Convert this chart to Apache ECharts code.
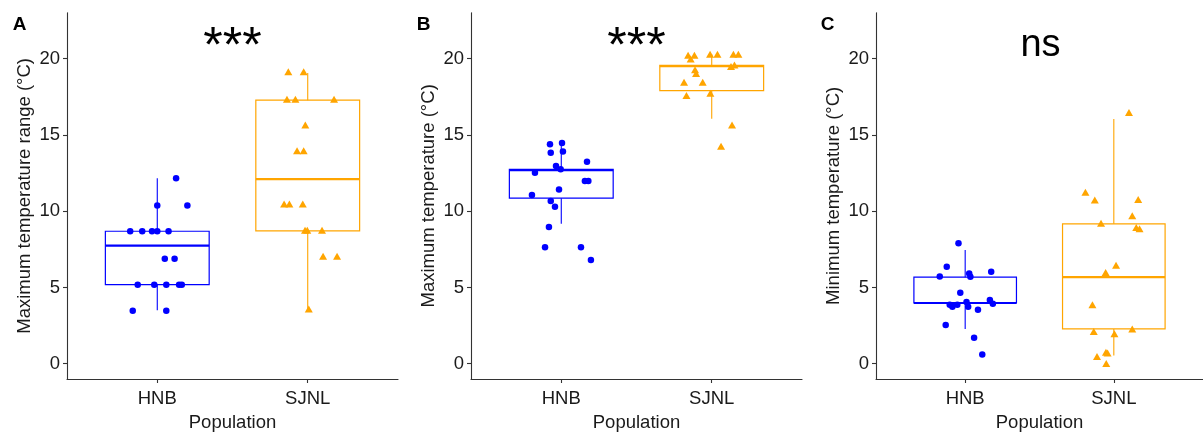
<!DOCTYPE html>
<html><head><meta charset="utf-8">
<script src="https://cdn.jsdelivr.net/npm/echarts@6/dist/echarts.min.js"></script>
<style>html,body{margin:0;padding:0;background:#fff}#c{width:1203px;height:437px}</style>
</head><body><div id="c"></div>
<script>
// ---- data ----
const categories = ['HNB', 'SJNL'];
const yTicks = [0, 5, 10, 15, 20];
const panelLetters = ['A', 'B', 'C'];
const yTitles = ['Maximum temperature range (°C)', 'Maximum temperature (°C)', 'Minimum temperature (°C)'];
const signif = ['***', '***', 'ns'];

// points: [jittered category position, value]
const A_HNB = [[1.125,12.15],[1.00,10.37],[1.20,10.37],[0.82,8.68],[0.90,8.68],[0.965,8.68],[1.00,8.68],[1.075,8.68],
  [1.05,6.88],[1.115,6.88],[0.87,5.18],[0.98,5.18],[1.06,5.18],[1.145,5.18],[1.163,5.18],[0.837,3.47],[1.06,3.47]];
const A_SJNL = [[1.871,19.13],[1.973,19.13],[1.862,17.33],[1.918,17.33],[2.175,17.33],[1.984,15.64],[1.929,13.95],[1.973,13.95],
  [1.843,10.46],[1.878,10.46],[1.967,10.46],[1.982,8.74],[1.997,8.74],[2.095,8.74],[2.102,7.05],[2.195,7.05],[2.007,3.58]];
const B_HNB = [[0.925,14.38],[1.005,14.47],[0.93,13.82],[1.011,13.90],[1.171,13.23],[0.965,12.95],[0.996,12.75],[0.825,12.52],
  [1.157,11.97],[1.18,11.97],[0.985,11.41],[0.805,11.06],[0.93,10.67],[0.958,10.28],[0.918,8.96],[0.892,7.64],[1.131,7.64],[1.197,6.79]];
const B_SJNL = [[1.843,20.22],[1.885,20.22],[1.86,19.96],[1.989,20.28],[2.038,20.28],[2.144,20.28],[2.177,20.28],[2.128,19.48],
  [2.151,19.57],[1.889,19.26],[1.896,19.02],[1.816,18.44],[1.94,18.44],[1.832,17.57],[1.991,17.72],[2.135,15.64],[2.062,14.25]];
const C_HNB = [[0.955,7.89],[0.876,6.35],[1.175,6.02],[0.829,5.72],[1.027,5.91],[1.035,5.70],[0.967,4.65],[0.896,3.87],[0.914,3.74],
  [0.947,3.87],[1.009,4.04],[1.02,3.74],[1.166,4.17],[1.186,3.93],[1.086,3.54],[0.869,2.54],[1.06,1.70],[1.115,0.61]];
const C_SJNL = [[2.102,16.46],[1.809,11.24],[1.872,10.72],[2.164,10.76],[2.124,9.70],[1.914,9.20],[2.151,8.93],[2.173,8.85],
  [2.015,6.46],[1.945,5.98],[1.856,3.87],[1.865,2.11],[2.004,1.96],[2.124,2.28],[1.947,0.76],[1.958,0.70],[1.887,0.48],[1.949,0.02]];

// box stats: [category position, lower whisker, Q1, median, Q3, upper whisker]
const A_BOX = [[1, 3.5, 5.18, 7.74, 8.68, 12.15], [2, 3.58, 8.7, 12.1, 17.27, 19.05]];
const B_BOX = [[1, 9.18, 10.85, 12.68, 12.74, 14.53], [2, 16.05, 17.9, 19.5, 19.55, 20.28]];
const C_BOX = [[1, 2.28, 3.98, 3.98, 5.67, 7.46], [2, 0.54, 2.28, 5.67, 9.17, 16.04]];

const points = [[A_HNB, A_SJNL], [B_HNB, B_SJNL], [C_HNB, C_SJNL]];
const boxes = [A_BOX, B_BOX, C_BOX];

// ---- styling ----
const FONT = '"Liberation Sans", Arial, sans-serif';
const COLORS = ['#0000FF', '#FFA500'];
const BOX_W = 0.69;
const gridLefts = [67, 471, 876];
const GRID_W = 331;

const chart = echarts.init(document.getElementById('c'), null, {renderer: 'canvas'});

function renderBox(params, api) {
  const x = api.value(0);
  const color = x < 1.5 ? COLORS[0] : COLORS[1];
  const pLo = api.coord([x, api.value(1)]);
  const pQ1 = api.coord([x, api.value(2)]);
  const pMed = api.coord([x, api.value(3)]);
  const pQ3 = api.coord([x, api.value(4)]);
  const pHi = api.coord([x, api.value(5)]);
  const w = api.size([BOX_W, 0])[0];
  const cx = pQ1[0];
  return {type: 'group', children: [
    {type: 'line', shape: {x1: cx, y1: pLo[1], x2: cx, y2: pQ1[1]}, style: {stroke: color, lineWidth: 1.1}},
    {type: 'line', shape: {x1: cx, y1: pQ3[1], x2: cx, y2: pHi[1]}, style: {stroke: color, lineWidth: 1.1}},
    {type: 'rect', shape: {x: cx - w / 2, y: pQ3[1], width: w, height: pQ1[1] - pQ3[1]}, style: {fill: 'rgba(255,255,255,0)', stroke: color, lineWidth: 1.2}},
    {type: 'line', shape: {x1: cx - w / 2, y1: pMed[1], x2: cx + w / 2, y2: pMed[1]}, style: {stroke: color, lineWidth: 2.2}}
  ]};
}

const grid = [], xAxis = [], yAxis = [], series = [], graphic = [];
for (let i = 0; i < 3; i++) {
  grid.push({left: gridLefts[i], top: 12.7, width: GRID_W, height: 370.6, containLabel: false});
  xAxis.push({
    type: 'value', gridIndex: i, min: 0.4, max: 2.6,
    name: 'Population', nameLocation: 'middle', nameGap: 34,
    nameTextStyle: {fontFamily: FONT, fontSize: 18.5, color: '#1a1a1a'},
    axisLine: {show: true, onZero: false, lineStyle: {color: '#333', width: 1.1}},
    axisTick: {show: true, length: 4, customValues: [1, 2], lineStyle: {color: '#333', width: 1.1}},
    axisLabel: {show: true, customValues: [1, 2], margin: 10, fontFamily: FONT, fontSize: 18.5, color: '#1a1a1a',
      formatter: v => categories[Math.round(v) - 1]},
    splitLine: {show: false}
  });
  yAxis.push({
    type: 'value', gridIndex: i, min: -1.0, max: 23.0,
    name: yTitles[i], nameLocation: 'middle', nameGap: 33,
    nameTextStyle: {fontFamily: FONT, fontSize: 18.5, color: '#1a1a1a'},
    axisLine: {show: true, onZero: false, lineStyle: {color: '#333', width: 1.1}},
    axisTick: {show: true, length: 4, customValues: yTicks, lineStyle: {color: '#333', width: 1.1}},
    axisLabel: {show: true, customValues: yTicks, margin: 7, fontFamily: FONT, fontSize: 18.5, color: '#1a1a1a'},
    splitLine: {show: false}
  });
  series.push({
    type: 'custom', xAxisIndex: i, yAxisIndex: i, renderItem: renderBox,
    encode: {x: 0, y: [1, 2, 3, 4, 5]}, data: boxes[i], silent: true, z: 2
  });
  for (let k = 0; k < 2; k++) {
    series.push({
      type: 'scatter', xAxisIndex: i, yAxisIndex: i, data: points[i][k],
      symbol: k === 0 ? 'circle' : 'triangle', symbolSize: k === 0 ? 6.5 : [8, 7],
      itemStyle: {color: COLORS[k], opacity: 1}, z: 3, silent: true
    });
  }
  graphic.push({type: 'text', left: [12.7, 416.7, 820.7][i], top: 15, style: {text: panelLetters[i], font: 'bold 19px ' + FONT, fill: '#000'}});
}
const sigCx = [232.5, 636.5, 1040.5];
graphic.push({type: 'text', x: sigCx[0], y: 48.5, style: {text: signif[0], font: '50px ' + FONT, fill: '#000', align: 'center', verticalAlign: 'middle'}});
graphic.push({type: 'text', x: sigCx[1], y: 48.5, style: {text: signif[1], font: '50px ' + FONT, fill: '#000', align: 'center', verticalAlign: 'middle'}});
graphic.push({type: 'text', x: sigCx[2], y: 46, style: {text: signif[2], font: '38px ' + FONT, fill: '#000', align: 'center', verticalAlign: 'middle'}});

chart.setOption({animation: false, backgroundColor: '#fff', grid, xAxis, yAxis, series, graphic});
</script></body></html>
